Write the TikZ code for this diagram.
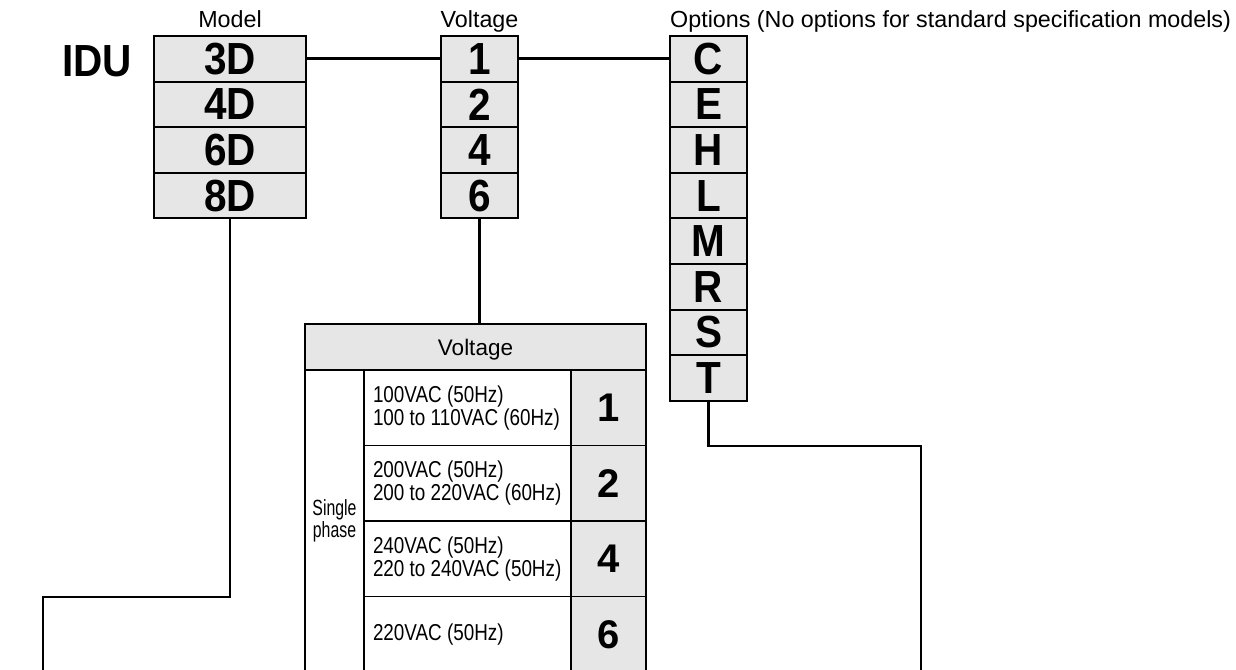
\documentclass[tikz,border=0pt]{standalone}
\usepackage{fontspec}
\setmainfont{Liberation Sans}
\newfontfamily\codefont{Liberation Sans}[FakeStretch=0.9]
\newfontfamily\tabfont{Liberation Sans}[FakeStretch=0.82]
\newfontfamily\narrowfont{Liberation Sans}[FakeStretch=0.72]
\definecolor{cellgray}{RGB}{230,230,230}
\usetikzlibrary{positioning}

\begin{document}
\begin{tikzpicture}[x=1pt, y=-1pt,
    code/.style={draw, line width=2pt, fill=cellgray, outer sep=0pt, inner sep=0pt, minimum height=45.6pt, font=\codefont\fontsize{45}{45}\selectfont\bfseries},
    model/.style={code, minimum width=152pt},
    digit/.style={code, minimum width=77pt},
    caption/.style={font=\fontsize{23.3}{27}\selectfont, inner sep=0pt, anchor=base},
    cell/.style={draw, line width=1.3pt, outer sep=0pt, inner sep=0pt},
    vtext/.style={cell, minimum width=207pt, minimum height=75.5pt, text width=189pt, align=flush left, font=\tabfont\fontsize{23}{23}\selectfont},
    vnum/.style={cell, fill=cellgray, minimum width=75pt, minimum height=75.5pt, font=\fontsize{40}{40}\selectfont\bfseries},
    link/.style={line width=3pt},
    lead/.style={line width=2.5pt}
  ]
  \fill[white] (0,0) rectangle (1236,669);
  \useasboundingbox (0,0) rectangle (1236,669);
  \clip (0,0) rectangle (1236,669);

  % code columns
  \node[caption] (lmodel) at (230,28) {Model};
  \node[caption] (lvolt) at (479.5,28) {Voltage};
  \node[caption, anchor=base west] (lopt) at (670,28) {Options (No options for standard specification models)};
  \node[font=\codefont\fontsize{45}{45}\selectfont\bfseries, inner sep=0pt, anchor=base] (idu) at (97,77) {IDU};

  \node[model] (m3) at (230,58.8) {3D};
  \node[model, below=0pt of m3] (m4) {4D};
  \node[model, below=0pt of m4] (m6) {6D};
  \node[model, below=0pt of m6] (m8) {8D};

  \node[digit] (v1) at (479.5,58.8) {1};
  \node[digit, below=0pt of v1] (v2) {2};
  \node[digit, below=0pt of v2] (v4) {4};
  \node[digit, below=0pt of v4] (v6) {6};

  \node[digit] (oC) at (708.5,58.8) {C};
  \node[digit, below=0pt of oC] (oE) {E};
  \node[digit, below=0pt of oE] (oH) {H};
  \node[digit, below=0pt of oH] (oL) {L};
  \node[digit, below=0pt of oL] (oM) {M};
  \node[digit, below=0pt of oM] (oR) {R};
  \node[digit, below=0pt of oR] (oS) {S};
  \node[digit, below=0pt of oS] (oT) {T};

  % voltage table
  \node[cell, fill=cellgray, minimum width=341pt, minimum height=46pt, text depth=0pt, font=\fontsize{22.5}{27}\selectfont] (vhead) at (475.5,347) {Voltage};
  \node[cell, minimum width=59pt, minimum height=302pt, align=center, font=\narrowfont\fontsize{22}{22}\selectfont] (phase) at (334.5,521) {Single\\phase};
  \node[vtext] (t1) at (467.5,407.75) {100VAC (50Hz)\\100 to 110VAC (60Hz)};
  \node[vtext] (t2) at (467.5,483.25) {200VAC (50Hz)\\200 to 220VAC (60Hz)};
  \node[vtext] (t4) at (467.5,558.75) {240VAC (50Hz)\\220 to 240VAC (50Hz)};
  \node[vtext] (t6) at (467.5,634.25) {220VAC (50Hz)};
  \node[vnum] (n1) at (608.5,407.75) {1};
  \node[vnum] (n2) at (608.5,483.25) {2};
  \node[vnum] (n4) at (608.5,558.75) {4};
  \node[vnum] (n6) at (608.5,634.25) {6};

  % connectors
  \coordinate (mturn) at (43,597);
  \coordinate (mend) at (43,672);
  \coordinate (oturn) at (921,446);
  \coordinate (oend) at (921,672);
  \draw[link] (m3.east) -- (v1.west);
  \draw[link] (v1.east) -- (oC.west);
  \draw[lead] (m8.south) |- (mturn) -- (mend);
  \draw[lead] (v6.south) -- (v6.south |- vhead.north);
  \draw[lead] (oT.south) |- (oturn) -- (oend);
\end{tikzpicture}
\end{document}
